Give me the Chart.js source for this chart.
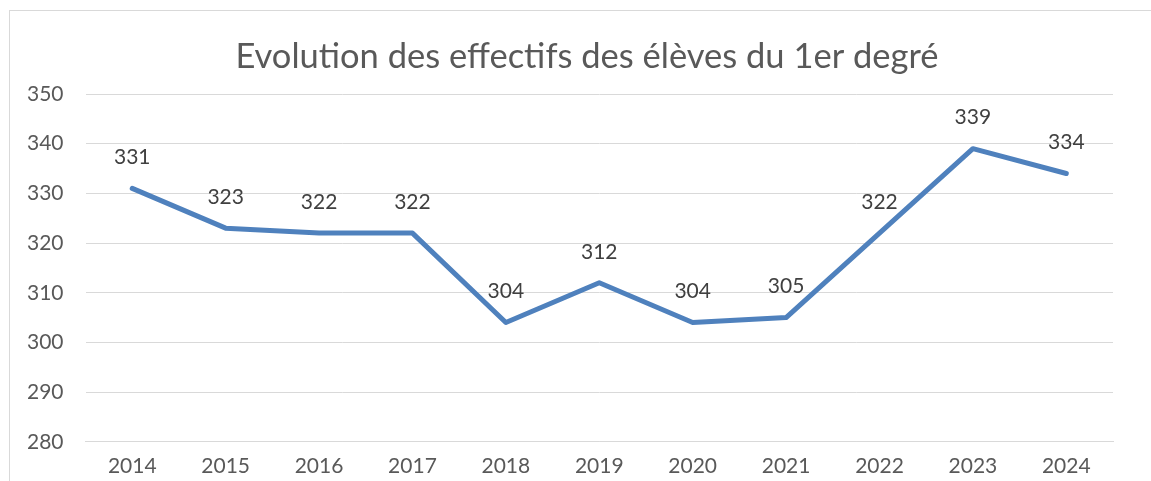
<!DOCTYPE html>
<html>
<head>
<meta charset="utf-8">
<script src="https://cdn.jsdelivr.net/npm/chart.js@4"></script>
<style>
  body { margin: 0; background: #fff; overflow: hidden; }
  #frame { position: absolute; left: 9px; top: 10px; width: 1160px; height: 490px; border: 1px solid #d9d9d9; }
  #wrap { position: absolute; left: 0; top: 0; width: 1151px; height: 481px; }
</style>
</head>
<body>
<div id="frame"></div>
<div id="wrap"><canvas id="chart" width="1151" height="481"></canvas></div>
<script>
const years = ['2014', '2015', '2016', '2017', '2018', '2019', '2020', '2021', '2022', '2023', '2024'];
const effectifs = [331, 323, 322, 322, 304, 312, 304, 305, 322, 339, 334];
const yMin = 280, yMax = 350, yStep = 10;
const titre = 'Evolution des effectifs des élèves du 1er degré';

const font = "Lato, 'Open Sans', sans-serif";

// titre centré sur le cadre (pas sur le canvas)
const chartTitle = {
  id: 'chartTitle',
  afterDraw(chart) {
    const c = chart.ctx;
    c.save();
    c.font = '34.5px ' + font;
    c.fillStyle = '#595959';
    c.textAlign = 'center';
    c.textBaseline = 'middle';
    c.fillText(titre, 587, 57);
    c.restore();
  }
};

// valeurs au-dessus des points
const pointLabels = {
  id: 'pointLabels',
  afterDatasetsDraw(chart) {
    const c = chart.ctx;
    const meta = chart.getDatasetMeta(0);
    c.save();
    c.font = '21px ' + font;
    c.fillStyle = '#404040';
    c.textAlign = 'center';
    c.textBaseline = 'middle';
    meta.data.forEach((pt, i) => {
      c.fillText(effectifs[i], pt.x, pt.y - 31);
    });
    c.restore();
  }
};

const ctx = document.getElementById('chart').getContext('2d');
new Chart(ctx, {
  type: 'line',
  data: {
    labels: years,
    datasets: [{
      data: effectifs,
      borderColor: '#4f81bd',
      borderWidth: 5,
      pointRadius: 0,
      tension: 0,
      borderJoinStyle: 'round',
      borderCapStyle: 'round'
    }]
  },
  options: {
    responsive: false,
    animation: false,
    layout: { padding: { left: 5, right: 38, top: 94, bottom: -10 } },
    plugins: {
      legend: { display: false },
      tooltip: { enabled: false },
      title: { display: false }
    },
    scales: {
      x: {
        offset: true,
        grid: { display: false, drawTicks: false },
        border: { color: '#d9d9d9' },
        ticks: { color: '#595959', font: { family: font, size: 21 }, padding: 12, maxRotation: 0 }
      },
      y: {
        min: yMin,
        max: yMax,
        grid: { color: '#d9d9d9', drawTicks: false },
        border: { display: false },
        ticks: { stepSize: yStep, color: '#595959', font: { family: font, size: 21 }, padding: 22 }
      }
    }
  },
  plugins: [pointLabels, chartTitle]
});
</script>
</body>
</html>
